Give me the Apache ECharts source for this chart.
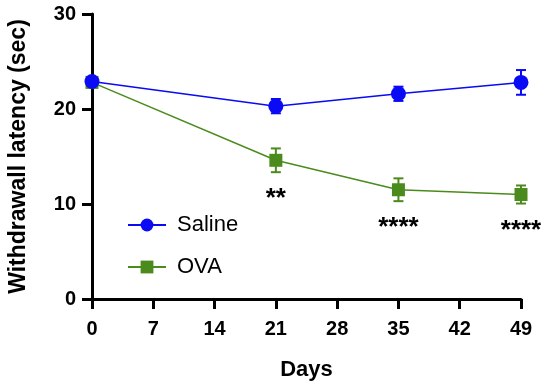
<!DOCTYPE html>
<html>
<head>
<meta charset="utf-8">
<script src="https://cdn.jsdelivr.net/npm/echarts@6/dist/echarts.min.js"></script>
<style>html,body{margin:0;padding:0;background:#fff}#c{width:550px;height:390px}</style>
</head>
<body>
<div id="c"></div>
<script>
var days = [0, 21, 35, 49];
var salineMean = [22.9, 20.3, 21.6, 22.8];
var salineErr = [0.35, 0.75, 0.75, 1.3];
var ovaMean = [22.8, 14.6, 11.5, 11.0];
var ovaErr = [0.3, 1.25, 1.2, 0.95];
var sigLabels = ['', '**', '****', '****'];
var xTicks = [0, 7, 14, 21, 28, 35, 42, 49];
var yTicks = [0, 10, 20, 30];

var BLUE = '#0a0af5';
var GREEN = '#4b8b1d';
var FONT = '"Liberation Sans", Arial, Helvetica, sans-serif';

function errSeries(name, means, errs, color) {
  return {
    type: 'custom',
    name: name + 'err',
    z: 3,
    data: days.map(function (d, i) { return [d, means[i] - errs[i], means[i] + errs[i]]; }),
    renderItem: function (params, api) {
      var lo = api.coord([api.value(0), api.value(1)]);
      var hi = api.coord([api.value(0), api.value(2)]);
      var w = 5;
      var st = { stroke: color, lineWidth: 2 };
      return {
        type: 'group',
        children: [
          { type: 'line', shape: { x1: lo[0], y1: lo[1], x2: hi[0], y2: hi[1] }, style: st },
          { type: 'line', shape: { x1: lo[0] - w, y1: lo[1], x2: lo[0] + w, y2: lo[1] }, style: st },
          { type: 'line', shape: { x1: hi[0] - w, y1: hi[1], x2: hi[0] + w, y2: hi[1] }, style: st }
        ]
      };
    },
    silent: true
  };
}

var chart = echarts.init(document.getElementById('c'), null, { renderer: 'canvas' });
chart.setOption({
  animation: false,
  backgroundColor: '#fff',
  textStyle: { fontFamily: FONT },
  grid: { left: 92, right: 29, top: 14, bottom: 91, containLabel: false, outerBoundsMode: 'none' },
  legend: {
    orient: 'vertical',
    left: 122,
    top: 209,
    itemGap: 20,
    itemWidth: 38,
    itemHeight: 16,
    data: ['Saline', 'OVA'],
    textStyle: { fontSize: 22, color: '#000', fontFamily: FONT, padding: [0, 0, 0, 6] }
  },
  xAxis: {
    type: 'value',
    min: 0, max: 49, interval: 7,
    name: 'Days',
    nameLocation: 'middle',
    nameGap: 60,
    nameTextStyle: { fontSize: 22, fontWeight: 'bold', color: '#000', fontFamily: FONT },
    axisLine: { lineStyle: { color: '#000', width: 3 } },
    axisTick: { length: 10, lineStyle: { color: '#000', width: 3 } },
    axisLabel: { fontSize: 20, fontWeight: 'bold', color: '#000', margin: 20, fontFamily: FONT,
      customValues: xTicks },
    splitLine: { show: false }
  },
  yAxis: {
    type: 'value',
    min: 0, max: 30, interval: 10,
    name: 'Withdrawall latency (sec)',
    nameLocation: 'middle',
    nameGap: 62,
    nameTextStyle: { fontSize: 23, fontWeight: 'bold', color: '#000', fontFamily: FONT },
    axisLine: { show: true, lineStyle: { color: '#000', width: 3 } },
    axisTick: { show: true, length: 10, lineStyle: { color: '#000', width: 3 } },
    axisLabel: { fontSize: 20, fontWeight: 'bold', color: '#000', margin: 16, fontFamily: FONT,
      customValues: yTicks },
    splitLine: { show: false }
  },
  series: [
    errSeries('OVA', ovaMean, ovaErr, GREEN),
    errSeries('Saline', salineMean, salineErr, BLUE),
    {
      type: 'line', name: 'OVA', z: 4,
      data: days.map(function (d, i) { return [d, ovaMean[i]]; }),
      symbol: 'rect', symbolSize: 13,
      itemStyle: { color: GREEN },
      lineStyle: { color: GREEN, width: 1.5 }
    },
    {
      type: 'line', name: 'Saline', z: 5,
      data: days.map(function (d, i) { return [d, salineMean[i]]; }),
      symbol: 'circle', symbolSize: 15,
      itemStyle: { color: BLUE },
      lineStyle: { color: BLUE, width: 1.5 }
    },
    {
      type: 'custom', name: 'sig', silent: true, z: 6,
      data: days.map(function (d, i) { return [d, ovaMean[i] - ovaErr[i], i]; }),
      renderItem: function (params, api) {
        var p = api.coord([api.value(0), api.value(1)]);
        var txt = sigLabels[api.value(2)];
        if (!txt) return null;
        return {
          type: 'text',
          style: { text: txt, x: p[0], y: p[1] + 27, align: 'center', verticalAlign: 'middle',
            font: 'bold 26px ' + FONT, fill: '#000' }
        };
      }
    }
  ]
});
</script>
</body>
</html>
